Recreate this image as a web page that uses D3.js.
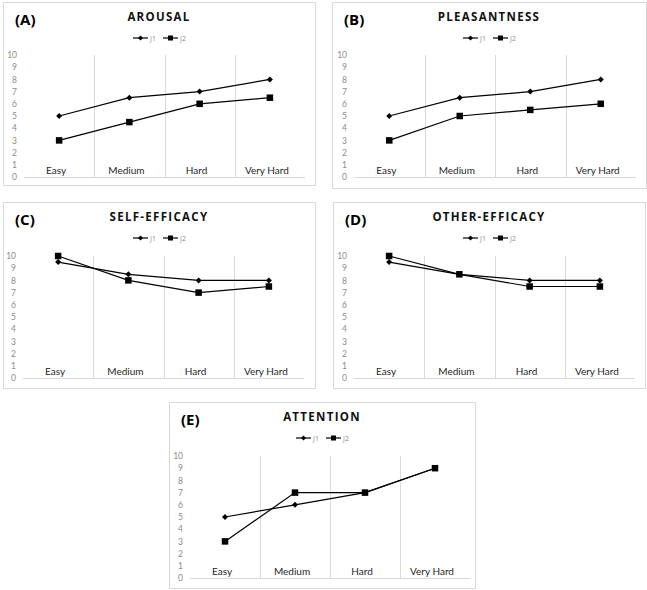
<!DOCTYPE html>
<html><head><meta charset="utf-8">
<script src="https://cdn.jsdelivr.net/npm/d3@7"></script>
<style>
html,body{margin:0;padding:0;background:#fff;}
svg{display:block;font-family:"Open Sans",Lato,sans-serif;}
</style></head>
<body>
<svg id="chart" width="647" height="590"></svg>
<script>
// ---- data ----
const categories = ["Easy", "Medium", "Hard", "Very Hard"];
const seriesNames = ["J1", "J2"];
const yTicks = [0,1,2,3,4,5,6,7,8,9,10];
const panelLetters = ["(A)", "(B)", "(C)", "(D)", "(E)"];
const panelTitles = ["AROUSAL", "PLEASANTNESS", "SELF-EFFICACY", "OTHER-EFFICACY", "ATTENTION"];
const arousalJ1 = [5, 6.5, 7, 8];
const arousalJ2 = [3, 4.5, 6, 6.5];
const pleasantJ1 = [5, 6.5, 7, 8];
const pleasantJ2 = [3, 5, 5.5, 6];
const selfEffJ1 = [9.5, 8.5, 8, 8];
const selfEffJ2 = [10, 8, 7, 7.5];
const otherEffJ1 = [9.5, 8.5, 8, 8];
const otherEffJ2 = [10, 8.5, 7.5, 7.5];
const attentionJ1 = [5, 6, 7, 9];
const attentionJ2 = [3, 7, 7, 9];
const panelSeries = [
  [arousalJ1, arousalJ2],
  [pleasantJ1, pleasantJ2],
  [selfEffJ1, selfEffJ2],
  [otherEffJ1, otherEffJ2],
  [attentionJ1, attentionJ2]
];

// ---- layout (positions only) ----
const layout = [
  {bx0:3,   bx1:315, by0:2,   by1:185, px0:24,  px1:305, py0:177, py1:55},
  {bx0:332, bx1:646, by0:2,   by1:188, px0:354, px1:636, py0:177, py1:55},
  {bx0:3,   bx1:315, by0:202, by1:388, px0:23,  px1:304, py0:378, py1:256},
  {bx0:333, bx1:645, by0:202, by1:388, px0:354, px1:635, py0:378, py1:256},
  {bx0:169, bx1:475, by0:402, by1:588, px0:190, px1:470, py0:578, py1:456}
];

const svg = d3.select("#chart");
const gridColor = "#d9d9d9";

function diamond(g, x, y, r){
  g.append("path").attr("d", `M${x},${y-r}L${x+r},${y}L${x},${y+r}L${x-r},${y}Z`).attr("fill","#000");
}
function square(g, x, y, s){
  g.append("rect").attr("x", x-s/2).attr("y", y-s/2).attr("width", s).attr("height", s).attr("fill","#000");
}

layout.forEach((L, i) => {
  const g = svg.append("g");
  g.append("rect").attr("x", L.bx0+0.5).attr("y", L.by0+0.5)
    .attr("width", L.bx1-L.bx0).attr("height", L.by1-L.by0)
    .attr("fill","#fff").attr("stroke", gridColor).attr("stroke-width",1);

  const x = d3.scaleBand().domain(categories).range([L.px0, L.px1]);
  const y = d3.scaleLinear().domain([0,10]).range([L.py0, L.py1]);
  const cx = c => x(c) + x.bandwidth()/2;

  // vertical gridlines between categories
  categories.slice(1).forEach(c => {
    g.append("line").attr("x1", Math.round(x(c))+0.5).attr("x2", Math.round(x(c))+0.5)
      .attr("y1", L.py1).attr("y2", L.py0).attr("stroke", gridColor).attr("stroke-width",1);
  });
  // bottom axis line
  g.append("line").attr("x1", L.px0).attr("x2", L.px1)
    .attr("y1", Math.round(L.py0)+0.5).attr("y2", Math.round(L.py0)+0.5)
    .attr("stroke", gridColor).attr("stroke-width",1);

  // y tick labels
  const yAxis = d3.axisLeft(y).tickValues(yTicks).tickSize(0).tickPadding(7);
  const ya = g.append("g").attr("transform", `translate(${L.px0},0)`).call(yAxis);
  ya.select(".domain").remove();
  ya.selectAll("text").attr("fill","#8c8c8c").attr("font-size","8.5px")
    .attr("font-family","Lato,\"Open Sans\",sans-serif");

  // category labels (drawn inside the plot, just above the axis)
  categories.forEach(c => {
    g.append("text").attr("x", cx(c) - 3).attr("y", L.py0 - 3)
      .attr("text-anchor","middle").attr("font-size","10px").attr("fill","#262626")
      .attr("font-family","Lato,\"Open Sans\",sans-serif")
      .text(c);
  });

  // lines + markers
  const line = d3.line().x((d,j) => cx(categories[j])).y(d => y(d));
  panelSeries[i].forEach((vals, s) => {
    g.append("path").datum(vals).attr("d", line).attr("fill","none")
      .attr("stroke","#000").attr("stroke-width",1.2);
  });
  // J1 diamonds then J2 squares on top
  panelSeries[i][0].forEach((v, j) => diamond(g, cx(categories[j]), y(v), 3));
  panelSeries[i][1].forEach((v, j) => square(g, cx(categories[j]), y(v), 6.5));

  // letter and title
  const midX = (L.bx0 + L.bx1) / 2;
  g.append("text").attr("x", L.bx0 + 12).attr("y", L.by0 + 23)
    .attr("font-size","15px").attr("font-weight","bold").attr("fill","#000")
    .text(panelLetters[i]);
  g.append("text").attr("x", midX).attr("y", L.by0 + 19)
    .attr("text-anchor","middle").attr("font-size","11.5px").attr("font-weight","bold")
    .attr("letter-spacing","1.3px").attr("fill","#111")
    .text(panelTitles[i]);

  // legend
  const ly = L.by0 + 36;
  const lg = g.append("g").attr("transform", `translate(${midX - 26},${ly})`);
  seriesNames.forEach((name, s) => {
    const ox = s * 30;
    lg.append("line").attr("x1", ox).attr("x2", ox+15).attr("y1",0).attr("y2",0)
      .attr("stroke","#000").attr("stroke-width",1.2);
    if (s === 0) diamond(lg, ox+7.5, 0, 2.5); else square(lg, ox+7.5, 0, 5);
    lg.append("text").attr("x", ox+17).attr("y", 2.5).attr("font-size","7px")
      .attr("fill","#8c8c8c").text(name);
  });
});
</script>
</body></html>
